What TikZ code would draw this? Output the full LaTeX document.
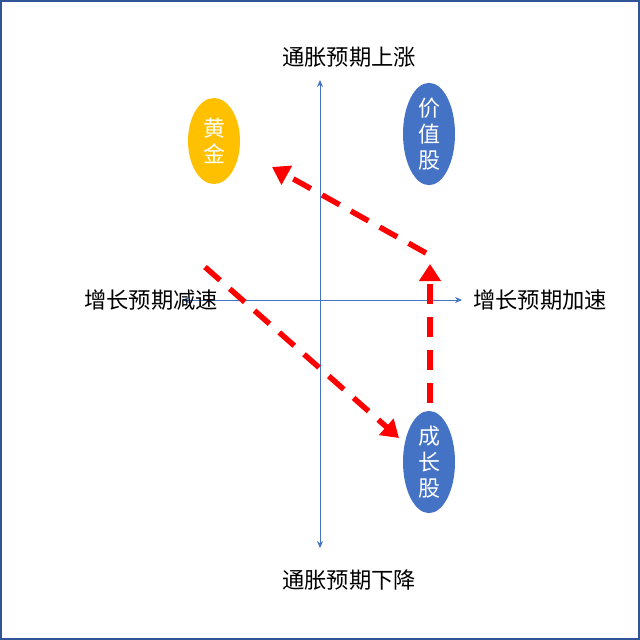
\documentclass[tikz,border=0pt]{standalone}
\usepackage{fontspec}
\setmainfont{Noto Sans CJK SC}
\usetikzlibrary{arrows.meta,shapes.geometric}
\definecolor{axisblue}{HTML}{4472C4}
\definecolor{framecol}{HTML}{2F5597}
\definecolor{gold}{HTML}{FFC000}
\definecolor{redarrow}{HTML}{FF0000}
\tikzset{
  axis/.style={draw=axisblue, line width=0.8pt, {Stealth[length=7pt,width=6pt]}-{Stealth[length=7pt,width=6pt]}},
  lbl/.style={font=\fontsize{22.3}{25}\selectfont, text=black, inner sep=0pt},
  blob/.style={ellipse, draw=none, minimum width=52pt, minimum height=86pt, inner sep=0pt,
    text=white, align=center, font=\fontsize{22}{26}\selectfont},
  move/.style={draw=redarrow, line width=5.5pt, dash pattern=on 20pt off 13pt,
    -{Triangle[length=17pt,width=21pt]}}
}
\begin{document}
\begin{tikzpicture}[x=1pt,y=-1pt]
\useasboundingbox (0,0) rectangle (640,640);
\fill[white] (0,0) rectangle (640,640);
\draw[framecol, line width=2pt] (1,1) rectangle (639,639);
% axes
\coordinate (vtop) at (320,80);
\coordinate (vbot) at (320,548);
\coordinate (hleft) at (182,300);
\coordinate (hright) at (462,300);
\draw[axis] (vbot) -- (vtop);
\draw[axis] (hleft) -- (hright);
% labels
\node[lbl] (up) at (349,57) {通胀预期上涨};
\node[lbl] (down) at (349,580) {通胀预期下降};
\node[lbl] (left) at (151,300) {增长预期减速};
\node[lbl] (right) at (540,300) {增长预期加速};
% blobs
\node[blob, fill=gold] (gold) at (214,141) {黄\\金};
\node[blob, fill=axisblue] (value) at (429,134) {价\\值\\股};
\node[blob, fill=axisblue] (growth) at (429,462) {成\\长\\股};
% moves
\coordinate (a1s) at (205,267);
\coordinate (a1e) at (399,438);
\coordinate (a2s) at (430,403);
\coordinate (a2e) at (430,264);
\coordinate (a3s) at (426,253);
\coordinate (a3e) at (272,167);
\draw[move] (a1s) -- (a1e);
\draw[move] (a2s) -- (a2e);
\draw[move] (a3s) -- (a3e);
\end{tikzpicture}
\end{document}
